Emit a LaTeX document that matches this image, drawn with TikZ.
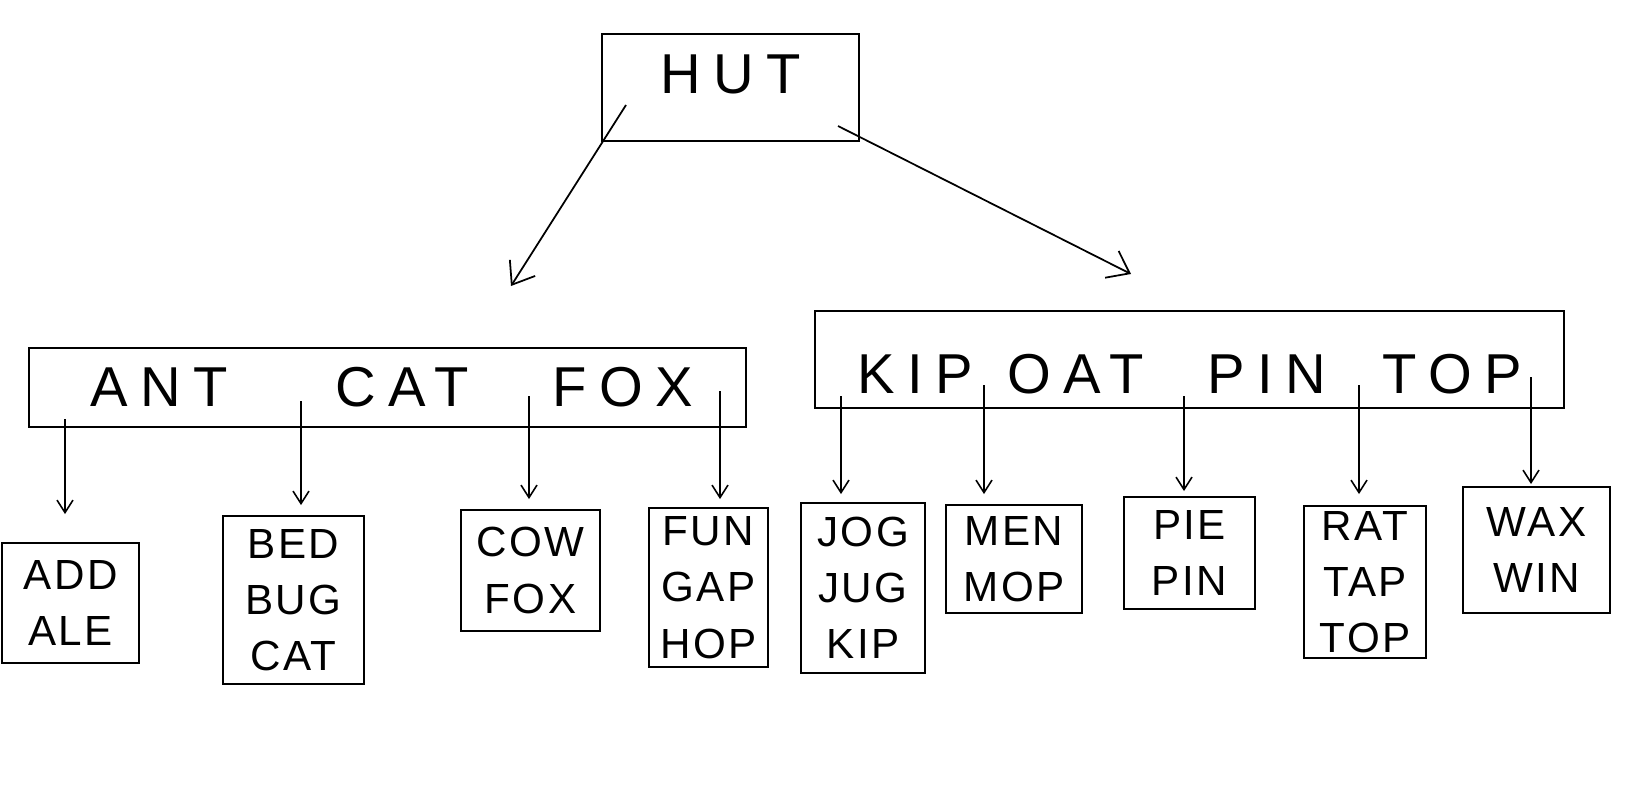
\documentclass[tikz,border=0pt]{standalone}
\usepackage{fontspec}
\setmainfont{Liberation Sans}
\usetikzlibrary{arrows.meta,positioning,calc}

\tikzset{
  box/.style={draw,line width=1.1pt,inner sep=0pt,align=center},
  leaf/.style={box,font=\fontsize{24}{32}\selectfont\addfontfeature{LetterSpace=6}},
  keys/.style={box,font=\fontsize{32}{38}\selectfont\addfontfeature{LetterSpace=22}},
  ptr/.style={-{Straight Barb[length=2.5mm,width=3.2mm]},line width=0.9pt},
  down/.style={-{Straight Barb[length=4mm,width=6mm]},line width=1pt}
}

\begin{document}
\begin{tikzpicture}[x=0.02cm,y=-0.02cm]
		\def\yRoot{87.5}
		\def\yInL{387.5}
		\def\yInR{359.5}

\useasboundingbox (0,0) rectangle (1642,788);

% root
\node[keys,minimum width=5.14cm,minimum height=2.14cm,text height=0.81cm,text depth=0.58cm] (hut) at (730.5,\yRoot) {HUT};

% inner nodes
\node[keys,minimum width=14.34cm,minimum height=1.58cm] (inL) at (387.5,\yInL)
  {\hspace*{0.17cm}ANT\hspace{2.16cm}CAT\hspace{1.67cm}FOX};
\node[keys,minimum width=14.98cm,minimum height=1.94cm,text height=1.37cm,text depth=0pt] (inR) at (1189.5,\yInR)
  {KIP\hspace{0.69cm}OAT\hspace{1.29cm}PIN\hspace{1.12cm}TOP};

% leaves
\node[leaf,minimum width=2.74cm,minimum height=2.4cm] (l1) at (70.5,603) {ADD\\ALE};
\node[leaf,minimum width=2.82cm,minimum height=3.36cm] (l2) at (293.5,600) {BED\\BUG\\CAT};
\node[leaf,minimum width=2.78cm,minimum height=2.42cm] (l3) at (530.5,570.5) {COW\\FOX};
\node[leaf,minimum width=2.38cm,minimum height=3.18cm] (l4) at (708.5,587.5) {FUN\\GAP\\HOP};
\node[leaf,minimum width=2.48cm,minimum height=3.4cm] (r1) at (863,588) {JOG\\JUG\\KIP};
\node[leaf,minimum width=2.72cm,minimum height=2.16cm] (r2) at (1014,559) {MEN\\MOP};
\node[leaf,minimum width=2.62cm,minimum height=2.24cm] (r3) at (1189.5,553) {PIE\\PIN};
\node[leaf,minimum width=2.44cm,minimum height=3.04cm] (r4) at (1365,582) {RAT\\TAP\\TOP};
\node[leaf,minimum width=2.94cm,minimum height=2.52cm] (r5) at (1536.5,550) {WAX\\WIN};

% pointers
\coordinate (hA) at (626,105);
\coordinate (hB) at (838,126);
\coordinate (eA) at (511,286);
\coordinate (eB) at (1131,274);
\draw[down] (hA) -- (eA);
\draw[down] (hB) -- (eB);

\coordinate (a1) at (65,419);
\coordinate (a2) at (301,401);
\coordinate (a3) at (529,396);
\coordinate (a4) at (720,391);
\draw[ptr,shorten >=0.56cm] (a1) -- (a1 |- l1.north);
\draw[ptr,shorten >=0.2cm] (a2) -- (a2 |- l2.north);
\draw[ptr,shorten >=0.2cm] (a3) -- (a3 |- l3.north);
\draw[ptr,shorten >=0.16cm] (a4) -- (a4 |- l4.north);

\coordinate (b1) at (841,396);
\coordinate (b2) at (984,385);
\coordinate (b3) at (1184,396);
\coordinate (b4) at (1359,385);
\coordinate (b5) at (1531,377);
\draw[ptr,shorten >=0.16cm] (b1) -- (b1 |- r1.north);
\draw[ptr,shorten >=0.2cm] (b2) -- (b2 |- r2.north);
\draw[ptr,shorten >=0.1cm] (b3) -- (b3 |- r3.north);
\draw[ptr,shorten >=0.22cm] (b4) -- (b4 |- r4.north);
\draw[ptr,shorten >=0.04cm] (b5) -- (b5 |- r5.north);

	\end{tikzpicture}
\end{document}
